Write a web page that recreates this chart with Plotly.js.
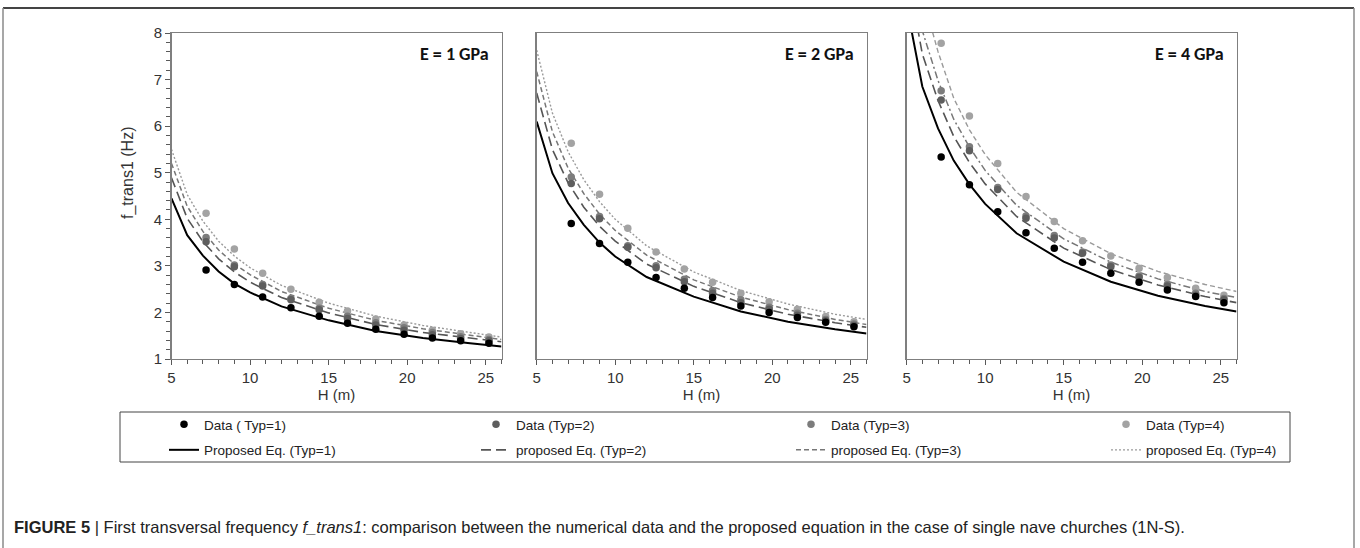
<!DOCTYPE html>
<html><head><meta charset="utf-8">
<script src="https://cdn.plot.ly/plotly-3.0.1.min.js"></script>
<style>html,body{margin:0;padding:0;background:#fff;}#chart{width:1360px;height:548px;}</style>
</head><body><div id="chart"></div>
<script>
// Data point heights H (m)
const H_data = [7.2, 9.0, 10.8, 12.6, 14.4, 16.2, 18.0, 19.8, 21.6, 23.4, 25.2];
// Proposed equation curve sample heights H (m)
const H_eq = [5, 6, 7, 8, 9, 10, 12, 15, 18, 21, 24, 26];

// E = 1 GPa
const e1_data_t1 = [2.91, 2.60, 2.33, 2.10, 1.92, 1.77, 1.64, 1.53, 1.45, 1.39, 1.34];
const e1_data_t2 = [3.52, 2.98, 2.57, 2.27, 2.06, 1.87, 1.73, 1.62, 1.52, 1.44, 1.39];
const e1_data_t3 = [3.61, 3.02, 2.60, 2.30, 2.09, 1.92, 1.78, 1.67, 1.57, 1.48, 1.42];
const e1_data_t4 = [4.13, 3.36, 2.84, 2.50, 2.22, 2.03, 1.86, 1.73, 1.62, 1.54, 1.47];
const e1_eq_t1 = [4.45, 3.66, 3.22, 2.88, 2.62, 2.43, 2.13, 1.83, 1.60, 1.45, 1.34, 1.27];
const e1_eq_t2 = [4.89, 4.02, 3.52, 3.15, 2.87, 2.65, 2.32, 1.99, 1.74, 1.57, 1.45, 1.37];
const e1_eq_t3 = [5.20, 4.28, 3.74, 3.34, 3.04, 2.81, 2.45, 2.09, 1.83, 1.65, 1.51, 1.42];
const e1_eq_t4 = [5.50, 4.53, 3.96, 3.53, 3.21, 2.96, 2.58, 2.20, 1.92, 1.72, 1.57, 1.47];

// E = 2 GPa
const e2_data_t1 = [3.91, 3.48, 3.08, 2.75, 2.52, 2.32, 2.14, 2.00, 1.89, 1.79, 1.69];
const e2_data_t2 = [4.77, 4.01, 3.40, 2.96, 2.66, 2.41, 2.21, 2.07, 1.94, 1.82, 1.72];
const e2_data_t3 = [4.91, 4.06, 3.43, 3.00, 2.71, 2.47, 2.27, 2.11, 1.98, 1.85, 1.75];
const e2_data_t4 = [5.63, 4.54, 3.81, 3.30, 2.93, 2.65, 2.41, 2.23, 2.07, 1.91, 1.80];
const e2_eq_t1 = [6.10, 4.99, 4.35, 3.88, 3.50, 3.20, 2.76, 2.34, 2.02, 1.80, 1.64, 1.55];
const e2_eq_t2 = [6.71, 5.50, 4.78, 4.26, 3.85, 3.53, 3.04, 2.56, 2.21, 1.96, 1.78, 1.68];
const e2_eq_t3 = [7.17, 5.88, 5.10, 4.55, 4.11, 3.76, 3.23, 2.70, 2.33, 2.06, 1.85, 1.74];
const e2_eq_t4 = [7.63, 6.28, 5.45, 4.85, 4.38, 4.00, 3.43, 2.87, 2.47, 2.18, 1.96, 1.85];

// E = 4 GPa
const e4_data_t1 = [5.34, 4.74, 4.16, 3.71, 3.38, 3.08, 2.84, 2.65, 2.48, 2.34, 2.21];
const e4_data_t2 = [6.56, 5.47, 4.64, 4.02, 3.60, 3.27, 2.98, 2.75, 2.57, 2.37, 2.27];
const e4_data_t3 = [6.76, 5.56, 4.68, 4.07, 3.65, 3.30, 3.02, 2.78, 2.60, 2.41, 2.30];
const e4_data_t4 = [7.78, 6.22, 5.20, 4.49, 3.95, 3.54, 3.21, 2.95, 2.75, 2.52, 2.37];
const e4_eq_t1 = [8.60, 6.85, 5.95, 5.26, 4.75, 4.33, 3.70, 3.09, 2.66, 2.36, 2.14, 2.02];
const e4_eq_t2 = [9.40, 7.55, 6.55, 5.78, 5.22, 4.76, 4.06, 3.38, 2.92, 2.59, 2.34, 2.21];
const e4_eq_t3 = [10.0, 8.05, 6.98, 6.15, 5.55, 5.05, 4.30, 3.58, 3.08, 2.72, 2.45, 2.32];
const e4_eq_t4 = [10.7, 8.80, 7.60, 6.60, 5.92, 5.39, 4.58, 3.80, 3.26, 2.88, 2.60, 2.45];

const dataNames = ['Data ( Typ=1)', 'Data (Typ=2)', 'Data (Typ=3)', 'Data (Typ=4)'];
const eqNames = ['Proposed Eq. (Typ=1)', 'proposed Eq. (Typ=2)', 'proposed Eq. (Typ=3)', 'proposed Eq. (Typ=4)'];
const panelLabels = ['E = 1 GPa', 'E = 2 GPa', 'E = 4 GPa'];

const markerColors = ['#000000', '#5e5e5e', '#7c7c7c', '#a3a3a3'];
const lineColors = ['#000000', '#555555', '#777777', '#9a9a9a'];
const lineWidths = [2, 1.6, 1.5, 1.4];
const dashesStd = ['solid', '10px,5px', '5px,3px', '2px,2px'];
const dashesP3 = ['solid', '10px,5px', '7px,3px,2px,3px', '5px,3px'];

const panels = [
  {data: [e1_data_t1, e1_data_t2, e1_data_t3, e1_data_t4], eq: [e1_eq_t1, e1_eq_t2, e1_eq_t3, e1_eq_t4], dashes: dashesStd},
  {data: [e2_data_t1, e2_data_t2, e2_data_t3, e2_data_t4], eq: [e2_eq_t1, e2_eq_t2, e2_eq_t3, e2_eq_t4], dashes: dashesStd},
  {data: [e4_data_t1, e4_data_t2, e4_data_t3, e4_data_t4], eq: [e4_eq_t1, e4_eq_t2, e4_eq_t3, e4_eq_t4], dashes: dashesP3}
];

const legendIds = ['legend', 'legend2', 'legend3', 'legend4'];

const traces = [];
panels.forEach((p, i) => {
  const xa = i === 0 ? 'x' : 'x' + (i + 1);
  const ya = i === 0 ? 'y' : 'y' + (i + 1);
  p.eq.forEach((vals, k) => {
    traces.push({
      type: 'scatter', mode: 'lines', x: H_eq, y: vals, xaxis: xa, yaxis: ya,
      name: eqNames[k], showlegend: i === 0, legend: legendIds[k], legendrank: 2, legendgroup: 'e' + k,
      line: {color: lineColors[k], width: lineWidths[k], dash: p.dashes[k], shape: 'linear'},
      hoverinfo: 'skip'
    });
  });
  [3, 2, 1, 0].forEach(k => {
    traces.push({
      type: 'scatter', mode: 'markers', x: H_data, y: p.data[k], xaxis: xa, yaxis: ya,
      name: dataNames[k], showlegend: i === 0, legend: legendIds[k], legendrank: 1, legendgroup: 'd' + k,
      marker: {color: markerColors[k], size: 7.5, line: {width: 0}}
    });
  });
});

const W = 1360, Hpx = 548;
const px = v => v / W;
const py = v => 1 - v / Hpx;
const yDom = [py(359), py(33)];
const xDoms = [[px(171.5), px(501.5)], [px(536.7), px(866.5)], [px(906.6), px(1236.5)]];

const tickFont = {family: '"Liberation Sans", Arial, sans-serif', size: 15, color: '#333333'};
function xAxis(i) {
  return {
    domain: xDoms[i], range: [5, 26], tick0: 5, dtick: 5, ticks: 'outside', ticklen: 5, tickwidth: 1,
    tickcolor: '#595959', showline: true, linecolor: '#7f7f7f', linewidth: 1.3, mirror: true,
    showgrid: false, zeroline: false, tickfont: tickFont, anchor: i === 0 ? 'y' : 'y' + (i + 1),
    minor: {dtick: 1, tick0: 5, ticks: 'outside', ticklen: 4, tickcolor: '#595959', showgrid: false},
    title: {text: 'H (m)', font: {family: '"Liberation Sans", Arial, sans-serif', size: 15, color: '#333333'}, standoff: 4},
    fixedrange: true
  };
}
function yAxis(i) {
  const base = {
    domain: yDom, range: [1, 8], showline: true, linecolor: '#7f7f7f', linewidth: 1.3, mirror: true,
    showgrid: false, zeroline: false, anchor: i === 0 ? 'x' : 'x' + (i + 1), fixedrange: true
  };
  if (i === 0) {
    Object.assign(base, {
      tick0: 1, dtick: 1, ticks: 'outside', ticklen: 5, tickwidth: 1, tickcolor: '#595959', tickfont: tickFont,
      minor: {dtick: 0.2, ticks: 'outside', ticklen: 4, tickcolor: '#595959', showgrid: false}
    });
  } else {
    Object.assign(base, {showticklabels: false, ticks: ''});
  }
  return base;
}

const annotations = panelLabels.map((t, i) => ({
  xref: 'paper', yref: 'paper', x: xDoms[i][1] - px(11), y: py(54), xanchor: 'right', yanchor: 'middle',
  text: '<b>' + t + '</b>', showarrow: false,
  font: {family: 'Carlito, Calibri, "Open Sans", sans-serif', size: 18, color: '#111111'}
}));
// y-axis title of the first panel
annotations.push({
  xref: 'paper', yref: 'paper', x: px(128), y: py(173), xanchor: 'center', yanchor: 'middle', textangle: -90,
  text: 'f_trans1 (Hz)', showarrow: false,
  font: {family: '"Liberation Sans", Arial, sans-serif', size: 16, color: '#333333'}
});
annotations.push({
  xref: 'paper', yref: 'paper', x: px(12), y: py(527), xanchor: 'left', yanchor: 'middle', showarrow: false,
  text: '<b>FIGURE 5</b> | First transversal frequency <i>f_trans1</i>: comparison between the numerical data and the proposed equation in the case of single nave churches (1N-S).',
  font: {family: '"Liberation Sans Narrow", "Arial Narrow", "Liberation Sans", sans-serif', size: 16.5, color: '#222222'}
});

const shapes = [
  {type: 'line', xref: 'paper', yref: 'paper', x0: px(3), x1: px(1354), y0: py(8), y1: py(8), line: {color: '#444444', width: 2}},
  {type: 'line', xref: 'paper', yref: 'paper', x0: px(3), x1: px(3), y0: py(8), y1: 0, line: {color: '#8a8a8a', width: 1.5}},
  {type: 'line', xref: 'paper', yref: 'paper', x0: px(1354), x1: px(1354), y0: py(8), y1: 0, line: {color: '#8a8a8a', width: 1.5}},
  // legend frame
  {type: 'rect', xref: 'paper', yref: 'paper', x0: px(120), x1: px(1290), y0: py(462), y1: py(412), line: {color: '#444444', width: 1}, fillcolor: 'rgba(0,0,0,0)', layer: 'below'}
];

const legFont = {family: '"Liberation Sans", Arial, sans-serif', size: 13.5, color: '#222222'};
const legendX = [164, 476, 791, 1106];
function legendCfg(k) {
  return {
    orientation: 'v', x: px(legendX[k]), xanchor: 'left', y: py(409), yanchor: 'top',
    traceorder: 'grouped', tracegroupgap: 5, bgcolor: 'rgba(0,0,0,0)', borderwidth: 0,
    itemwidth: 30, font: legFont
  };
}

const layout = {
  width: W, height: Hpx, margin: {l: 0, r: 0, t: 0, b: 0}, paper_bgcolor: '#ffffff', plot_bgcolor: '#ffffff',
  showlegend: true,
  legend: legendCfg(0), legend2: legendCfg(1), legend3: legendCfg(2), legend4: legendCfg(3),
  xaxis: xAxis(0), xaxis2: xAxis(1), xaxis3: xAxis(2),
  yaxis: yAxis(0), yaxis2: yAxis(1), yaxis3: yAxis(2),
  annotations: annotations, shapes: shapes
};

Plotly.newPlot('chart', traces, layout, {displayModeBar: false, staticPlot: true});
</script></body></html>
